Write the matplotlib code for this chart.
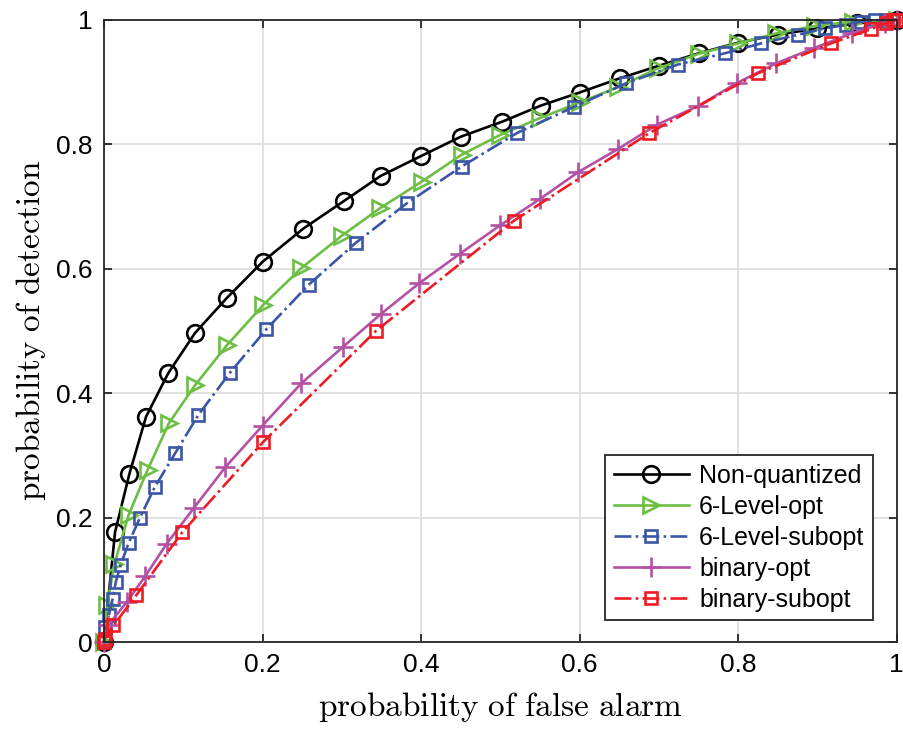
import matplotlib
matplotlib.use("Agg")
import matplotlib.pyplot as plt

# ---- data ----
nonq_x = [0, 0.014, 0.032, 0.053, 0.081, 0.115, 0.155, 0.200, 0.251, 0.303, 0.349, 0.400,
          0.450, 0.502, 0.551, 0.600, 0.651, 0.700, 0.750, 0.800, 0.850, 0.900, 0.950, 1.0]
nonq_y = [0, 0.177, 0.270, 0.362, 0.432, 0.497, 0.553, 0.611, 0.664, 0.709, 0.749, 0.781,
          0.812, 0.836, 0.862, 0.883, 0.906, 0.926, 0.946, 0.963, 0.976, 0.986, 0.994, 1.0]

g6opt_x = [0, 0.004, 0.013, 0.031, 0.055, 0.082, 0.115, 0.155, 0.201, 0.249, 0.300, 0.348,
           0.401, 0.451, 0.500, 0.550, 0.600, 0.649, 0.699, 0.750, 0.800, 0.848, 0.897, 0.945, 1.0]
g6opt_y = [0, 0.060, 0.125, 0.204, 0.277, 0.352, 0.413, 0.477, 0.542, 0.601, 0.653, 0.697,
           0.740, 0.783, 0.815, 0.842, 0.867, 0.892, 0.922, 0.945, 0.962, 0.978, 0.990, 0.997, 1.0]

g6sub_x = [0, 0.001, 0.006, 0.011, 0.015, 0.021, 0.031, 0.045, 0.064, 0.090, 0.119, 0.159,
           0.205, 0.258, 0.318, 0.382, 0.451, 0.521, 0.593, 0.659, 0.724, 0.783, 0.829, 0.876,
           0.909, 0.936, 0.955, 0.972, 0.987, 1.0]
g6sub_y = [0, 0.025, 0.043, 0.070, 0.097, 0.124, 0.159, 0.199, 0.249, 0.304, 0.365, 0.433,
           0.503, 0.574, 0.642, 0.705, 0.764, 0.818, 0.860, 0.898, 0.928, 0.946, 0.962, 0.976,
           0.986, 0.992, 0.997, 0.999, 1.0, 1.0]

binopt_x = [0, 0.005, 0.029, 0.052, 0.079, 0.113, 0.153, 0.200, 0.249, 0.302, 0.350, 0.398,
            0.449, 0.500, 0.550, 0.598, 0.648, 0.697, 0.749, 0.798, 0.848, 0.895, 0.943, 0.985, 1.0]
binopt_y = [0, 0.027, 0.065, 0.106, 0.158, 0.215, 0.281, 0.348, 0.416, 0.475, 0.528, 0.577,
            0.624, 0.670, 0.712, 0.755, 0.792, 0.831, 0.861, 0.898, 0.930, 0.954, 0.978, 0.995, 1.0]

binsub_x = [0, 0.001, 0.012, 0.041, 0.099, 0.201, 0.343, 0.517, 0.688, 0.825, 0.917, 0.968,
            0.987, 0.995, 1.0]
binsub_y = [0, 0.006, 0.027, 0.076, 0.177, 0.322, 0.500, 0.677, 0.818, 0.914, 0.962, 0.985,
            0.995, 0.999, 1.0]

labels = ["Non-quantized", "6-Level-opt", "6-Level-subopt", "binary-opt", "binary-subopt"]
ticks = [0, 0.2, 0.4, 0.6, 0.8, 1]
tick_labels = ["0", "0.2", "0.4", "0.6", "0.8", "1"]

# ---- style ----
plt.rcParams['font.family'] = ['Liberation Sans', 'DejaVu Sans']
plt.rcParams['mathtext.fontset'] = 'cm'

fig = plt.figure(figsize=(9.04, 7.29), dpi=100)
ax = fig.add_axes([0.115, 0.119, 0.877, 0.854])

lw = 1.9
mew = 1.9
ax.plot(nonq_x, nonq_y, '-', color='black', lw=lw, marker='o', ms=12,
        mfc='none', mew=mew, clip_on=False, label=labels[0])
ax.plot(g6opt_x, g6opt_y, '-', color='#6DBE45', lw=lw, marker='>', ms=12,
        mfc='none', mew=mew, clip_on=False, label=labels[1])
ax.plot(g6sub_x, g6sub_y, '-.', color='#3B56A6', lw=lw, marker='s', ms=9,
        mfc='none', mew=mew, clip_on=False, label=labels[2])
ax.plot(binopt_x, binopt_y, '-', color='#B352A3', lw=lw, marker='+', ms=15,
        mew=mew, clip_on=False, label=labels[3])
ax.plot(binsub_x, binsub_y, '-.', color='#ED1C24', lw=lw, marker='s', ms=9,
        mfc='none', mew=mew, clip_on=False, label=labels[4])

ax.set_xlim(0, 1)
ax.set_ylim(0, 1)
ax.set_xticks(ticks)
ax.set_xticklabels(tick_labels)
ax.set_yticks(ticks)
ax.set_yticklabels(tick_labels)
ax.grid(True, color='#DEDEDE', lw=1.3)
ax.set_axisbelow(True)
for s in ax.spines.values():
    s.set_color('#262626')
    s.set_linewidth(1.3)
ax.tick_params(direction='in', length=6, width=1.3, top=True, right=True,
               labelsize=19, colors='#262626', pad=8)
ax.tick_params(labelcolor='black')

ax.set_xlabel(r'$\mathrm{probability\ of\ false\ alarm}$', fontsize=24, labelpad=9)
ax.set_ylabel(r'$\mathrm{probability\ of\ detection}$', fontsize=24, labelpad=6)

leg = ax.legend(loc='lower right', bbox_to_anchor=(0.970, 0.035), borderaxespad=0,
                fontsize=18, handlelength=3.0, labelspacing=0.28, handletextpad=0.4,
                borderpad=0.35, fancybox=False, framealpha=1, edgecolor='#262626')
leg.get_frame().set_linewidth(1.3)

fig.savefig('out.png', dpi=100)
